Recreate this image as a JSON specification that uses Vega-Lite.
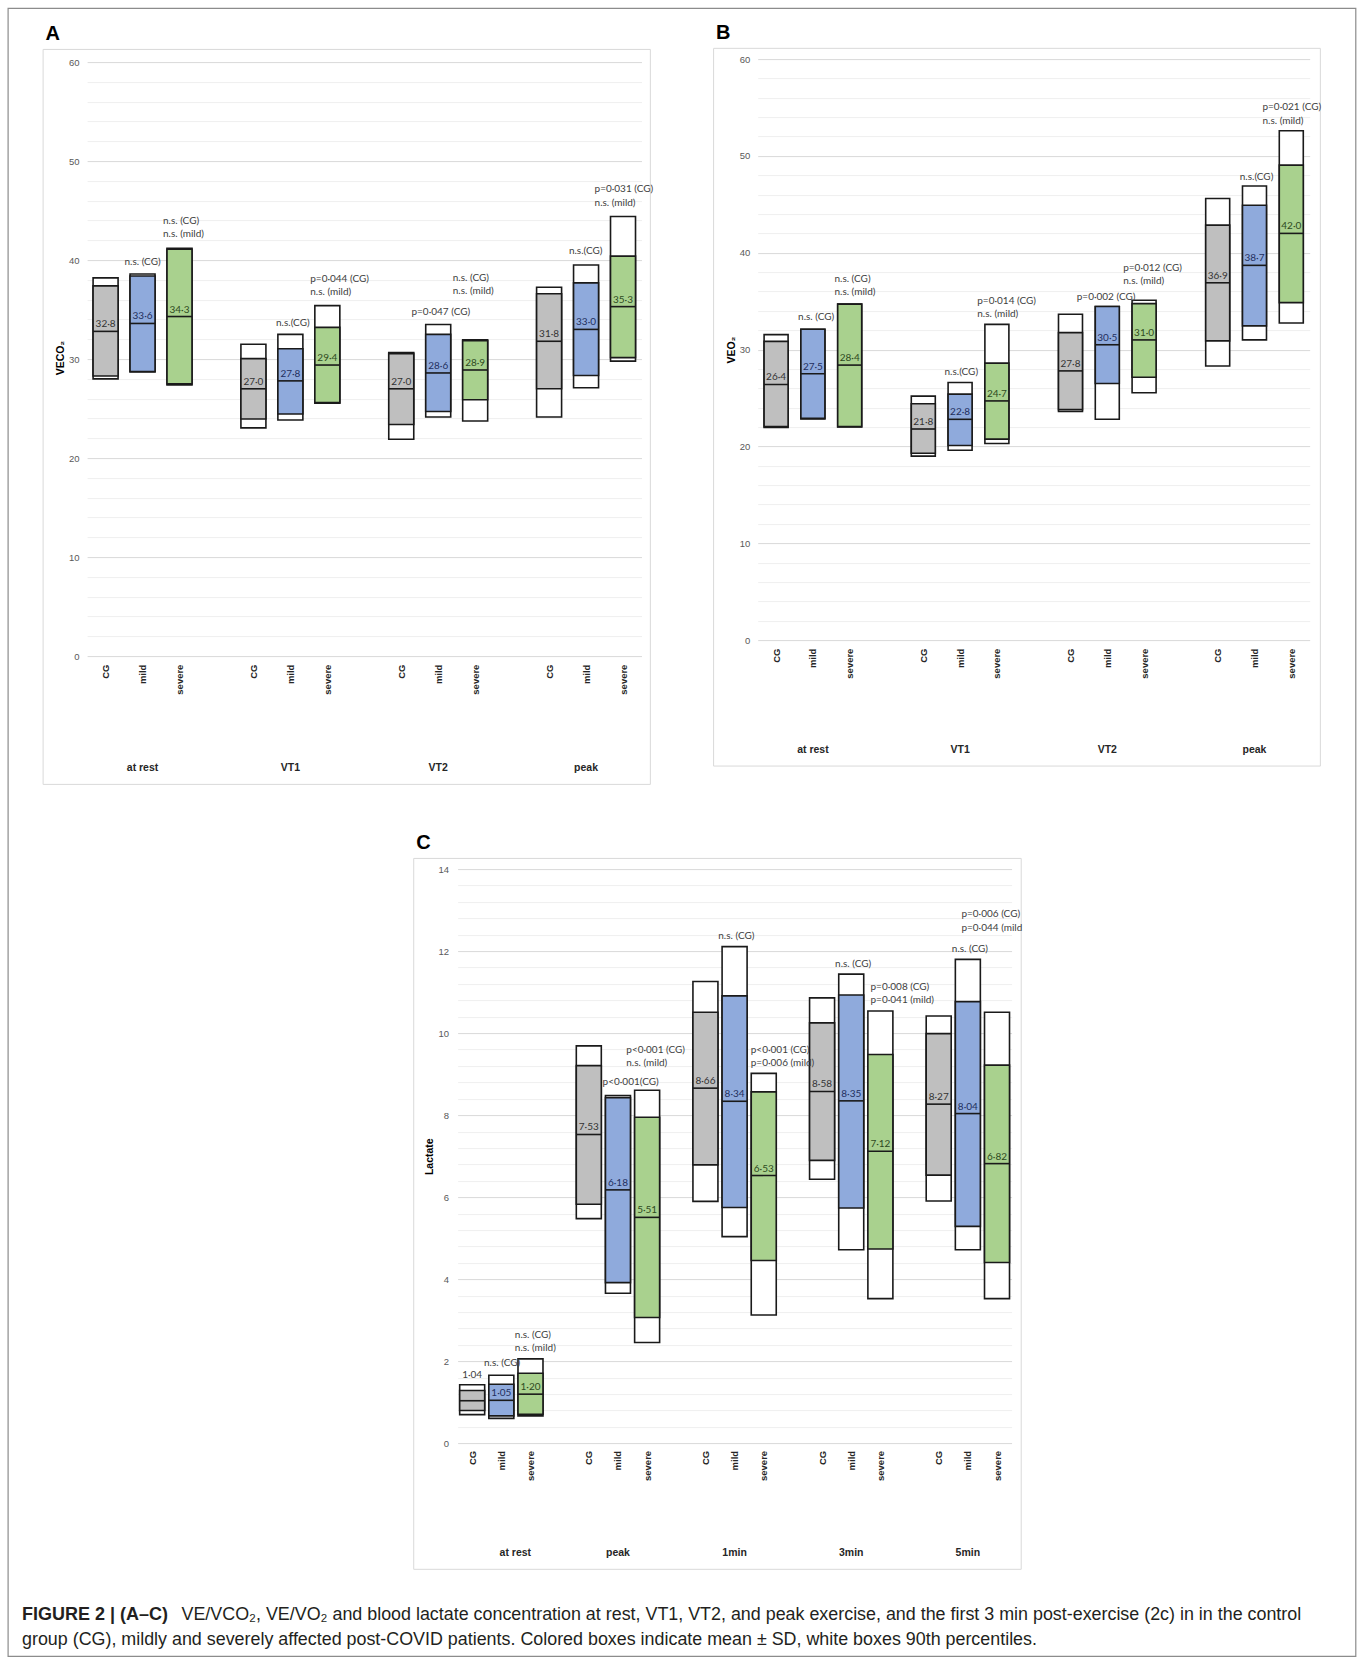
{
  "$schema": "https://vega.github.io/schema/vega-lite/v6.json",
  "background": "#ffffff",
  "padding": 7.1,
  "config": {"view": {"stroke": null}},
  "datasets": {
    "Abars": [
      {"s": 0, "g": "CG", "lo": 28.0, "hi": 38.2, "sl": 28.3, "sh": 37.4, "m": 32.8, "lab": "32·8"},
      {"s": 1, "g": "mild", "lo": 28.7, "hi": 38.6, "sl": 28.75, "sh": 38.4, "m": 33.6, "lab": "33·6"},
      {"s": 2, "g": "severe", "lo": 27.4, "hi": 41.2, "sl": 27.5, "sh": 41.1, "m": 34.3, "lab": "34·3"},
      {"s": 4, "g": "CG", "lo": 23.05, "hi": 31.5, "sl": 23.95, "sh": 30.05, "m": 27.0, "lab": "27·0"},
      {"s": 5, "g": "mild", "lo": 23.85, "hi": 32.5, "sl": 24.45, "sh": 31.05, "m": 27.8, "lab": "27·8"},
      {"s": 6, "g": "severe", "lo": 25.55, "hi": 35.4, "sl": 25.6, "sh": 33.2, "m": 29.4, "lab": "29·4"},
      {"s": 8, "g": "CG", "lo": 21.9, "hi": 30.65, "sl": 23.4, "sh": 30.55, "m": 27.0, "lab": "27·0"},
      {"s": 9, "g": "mild", "lo": 24.15, "hi": 33.5, "sl": 24.7, "sh": 32.5, "m": 28.6, "lab": "28·6"},
      {"s": 10, "g": "severe", "lo": 23.75, "hi": 31.95, "sl": 25.9, "sh": 31.85, "m": 28.9, "lab": "28·9"},
      {"s": 12, "g": "CG", "lo": 24.15, "hi": 37.25, "sl": 27.0, "sh": 36.6, "m": 31.8, "lab": "31·8"},
      {"s": 13, "g": "mild", "lo": 27.1, "hi": 39.5, "sl": 28.35, "sh": 37.7, "m": 33.0, "lab": "33·0"},
      {"s": 14, "g": "severe", "lo": 29.8, "hi": 44.4, "sl": 30.15, "sh": 40.4, "m": 35.3, "lab": "35·3"}
    ],
    "Bbars": [
      {"s": 0, "g": "CG", "lo": 21.95, "hi": 31.55, "sl": 22.05, "sh": 30.85, "m": 26.4, "lab": "26·4"},
      {"s": 1, "g": "mild", "lo": 22.85, "hi": 32.1, "sl": 22.9, "sh": 32.1, "m": 27.5, "lab": "27·5"},
      {"s": 2, "g": "severe", "lo": 22.0, "hi": 34.7, "sl": 22.05, "sh": 34.7, "m": 28.4, "lab": "28·4"},
      {"s": 4, "g": "CG", "lo": 19.0, "hi": 25.2, "sl": 19.3, "sh": 24.4, "m": 21.8, "lab": "21·8"},
      {"s": 5, "g": "mild", "lo": 19.6, "hi": 26.6, "sl": 20.1, "sh": 25.4, "m": 22.8, "lab": "22·8"},
      {"s": 6, "g": "severe", "lo": 20.3, "hi": 32.6, "sl": 20.75, "sh": 28.6, "m": 24.7, "lab": "24·7"},
      {"s": 8, "g": "CG", "lo": 23.6, "hi": 33.65, "sl": 23.8, "sh": 31.75, "m": 27.8, "lab": "27·8"},
      {"s": 9, "g": "mild", "lo": 22.8, "hi": 34.45, "sl": 26.5, "sh": 34.45, "m": 30.5, "lab": "30·5"},
      {"s": 10, "g": "severe", "lo": 25.55, "hi": 35.1, "sl": 27.15, "sh": 34.75, "m": 31.0, "lab": "31·0"},
      {"s": 12, "g": "CG", "lo": 28.3, "hi": 45.6, "sl": 30.9, "sh": 42.85, "m": 36.9, "lab": "36·9"},
      {"s": 13, "g": "mild", "lo": 31.0, "hi": 46.9, "sl": 32.45, "sh": 44.9, "m": 38.7, "lab": "38·7"},
      {"s": 14, "g": "severe", "lo": 32.75, "hi": 52.6, "sl": 34.85, "sh": 49.05, "m": 42.0, "lab": "42·0"}
    ],
    "Cbars": [
      {"s": 0, "g": "CG", "lo": 0.70, "hi": 1.43, "sl": 0.80, "sh": 1.29, "m": 1.04, "lab": ""},
      {"s": 1, "g": "mild", "lo": 0.61, "hi": 1.66, "sl": 0.67, "sh": 1.44, "m": 1.05, "lab": "1·05"},
      {"s": 2, "g": "severe", "lo": 0.67, "hi": 2.06, "sl": 0.71, "sh": 1.71, "m": 1.20, "lab": "1·20"},
      {"s": 4, "g": "CG", "lo": 5.48, "hi": 9.69, "sl": 5.83, "sh": 9.21, "m": 7.53, "lab": "7·53"},
      {"s": 5, "g": "mild", "lo": 3.66, "hi": 8.48, "sl": 3.92, "sh": 8.43, "m": 6.18, "lab": "6·18"},
      {"s": 6, "g": "severe", "lo": 2.46, "hi": 8.61, "sl": 3.07, "sh": 7.95, "m": 5.51, "lab": "5·51"},
      {"s": 8, "g": "CG", "lo": 5.90, "hi": 11.26, "sl": 6.79, "sh": 10.51, "m": 8.66, "lab": "8·66"},
      {"s": 9, "g": "mild", "lo": 5.04, "hi": 12.11, "sl": 5.75, "sh": 10.91, "m": 8.34, "lab": "8·34"},
      {"s": 10, "g": "severe", "lo": 3.13, "hi": 9.02, "sl": 4.46, "sh": 8.57, "m": 6.53, "lab": "6·53"},
      {"s": 12, "g": "CG", "lo": 6.44, "hi": 10.86, "sl": 6.90, "sh": 10.25, "m": 8.58, "lab": "8·58"},
      {"s": 13, "g": "mild", "lo": 4.72, "hi": 11.44, "sl": 5.74, "sh": 10.93, "m": 8.35, "lab": "8·35"},
      {"s": 14, "g": "severe", "lo": 3.53, "hi": 10.54, "sl": 4.74, "sh": 9.48, "m": 7.12, "lab": "7·12"},
      {"s": 16, "g": "CG", "lo": 5.91, "hi": 10.42, "sl": 6.54, "sh": 9.99, "m": 8.27, "lab": "8·27"},
      {"s": 17, "g": "mild", "lo": 4.72, "hi": 11.80, "sl": 5.29, "sh": 10.77, "m": 8.04, "lab": "8·04"},
      {"s": 18, "g": "severe", "lo": 3.53, "hi": 10.51, "sl": 4.41, "sh": 9.22, "m": 6.82, "lab": "6·82"}
    ],
    "Aann": [
      {"s": 1.0, "v": 39.8, "t": "n.s. (CG)", "a": "c"},
      {"s": 1.553, "v": 43.96, "t": "n.s. (CG)", "a": "l"},
      {"s": 1.553, "v": 42.62, "t": "n.s. (mild)", "a": "l"},
      {"s": 5.066, "v": 33.68, "t": "n.s.(CG)", "a": "c"},
      {"s": 5.538, "v": 38.05, "t": "p=0·044 (CG)", "a": "l"},
      {"s": 5.538, "v": 36.76, "t": "n.s. (mild)", "a": "l"},
      {"s": 9.07, "v": 34.77, "t": "p=0·047 (CG)", "a": "c"},
      {"s": 9.394, "v": 38.15, "t": "n.s. (CG)", "a": "l"},
      {"s": 9.394, "v": 36.86, "t": "n.s. (mild)", "a": "l"},
      {"s": 12.99, "v": 40.88, "t": "n.s.(CG)", "a": "c"},
      {"s": 13.23, "v": 47.14, "t": "p=0·031 (CG)", "a": "l"},
      {"s": 13.23, "v": 45.8, "t": "n.s. (mild)", "a": "l"}
    ],
    "Bann": [
      {"s": 1.088, "v": 33.4, "t": "n.s. (CG)", "a": "c"},
      {"s": 1.586, "v": 37.31, "t": "n.s. (CG)", "a": "l"},
      {"s": 1.586, "v": 35.95, "t": "n.s. (mild)", "a": "l"},
      {"s": 5.033, "v": 27.64, "t": "n.s.(CG)", "a": "c"},
      {"s": 5.467, "v": 35.05, "t": "p=0·014 (CG)", "a": "l"},
      {"s": 5.467, "v": 33.65, "t": "n.s. (mild)", "a": "l"},
      {"s": 8.967, "v": 35.45, "t": "p=0·002 (CG)", "a": "c"},
      {"s": 9.433, "v": 38.41, "t": "p=0·012 (CG)", "a": "l"},
      {"s": 9.433, "v": 37.06, "t": "n.s. (mild)", "a": "l"},
      {"s": 13.056, "v": 47.87, "t": "n.s.(CG)", "a": "c"},
      {"s": 13.217, "v": 55.03, "t": "p=0·021 (CG)", "a": "l"},
      {"s": 13.217, "v": 53.63, "t": "n.s. (mild)", "a": "l"}
    ],
    "Cann": [
      {"s": 0, "v": 1.67, "t": "1·04", "a": "c"},
      {"s": 0.407, "v": 1.96, "t": "n.s. (CG)", "a": "l"},
      {"s": 1.464, "v": 2.653, "t": "n.s. (CG)", "a": "l"},
      {"s": 1.464, "v": 2.335, "t": "n.s. (mild)", "a": "l"},
      {"s": 4.473, "v": 8.81, "t": "p<0·001(CG)", "a": "l"},
      {"s": 5.286, "v": 9.6, "t": "p<0·001 (CG)", "a": "l"},
      {"s": 5.286, "v": 9.28, "t": "n.s. (mild)", "a": "l"},
      {"s": 9.06, "v": 12.37, "t": "n.s. (CG)", "a": "c"},
      {"s": 9.555, "v": 9.6, "t": "p<0·001 (CG)", "a": "l"},
      {"s": 9.555, "v": 9.28, "t": "p=0·006 (mild)", "a": "l"},
      {"s": 13.066, "v": 11.69, "t": "n.s. (CG)", "a": "c"},
      {"s": 13.662, "v": 11.13, "t": "p=0·008 (CG)", "a": "l"},
      {"s": 13.662, "v": 10.81, "t": "p=0·041 (mild)", "a": "l"},
      {"s": 17.07, "v": 12.05, "t": "n.s. (CG)", "a": "c"},
      {"s": 16.78, "v": 12.9, "t": "p=0·006 (CG)", "a": "l"},
      {"s": 16.78, "v": 12.57, "t": "p=0·044 (mild", "a": "l"}
    ],
    "Agrp": [
      {"s": 1, "t": "at rest"}, {"s": 5, "t": "VT1"}, {"s": 9, "t": "VT2"}, {"s": 13, "t": "peak"}
    ],
    "Cgrp": [
      {"s": 1.48, "t": "at rest"}, {"s": 5, "t": "peak"}, {"s": 9, "t": "1min"}, {"s": 13, "t": "3min"}, {"s": 17, "t": "5min"}
    ]
  },
  "concat": [
    {
      "width": 554.4,
      "height": 597,
      "title": {"text": "A", "anchor": "start", "frame": "bounds", "font": "Liberation Sans", "fontSize": 20, "fontWeight": "bold", "color": "#000000", "offset": 5, "dx": 3},
      "layer": [
        {
          "data": {"values": [{}]},
          "mark": {"type": "rect", "filled": false, "color": "#d9d9d9", "strokeWidth": 1},
          "encoding": {
            "x": {"datum": -1.69, "type": "quantitative"},
            "x2": {"datum": 14.74},
            "y": {"datum": 61.28, "type": "quantitative"},
            "y2": {"datum": -12.96}
          }
        },
        {
          "data": {"name": "Abars"},
          "mark": {"type": "bar", "width": 25, "fill": "#ffffff", "stroke": "#1a1a1a", "strokeWidth": 1.6},
          "encoding": {
            "x": {"field": "s", "type": "quantitative", "title": null,
              "scale": {"domain": [-0.5, 14.5], "padding": 0, "nice": false, "zero": false},
              "axis": {"values": [0,1,2,4,5,6,8,9,10,12,13,14], "tickCount": 100, "labelExpr": "datum.value % 4 == 0 ? 'CG' : (datum.value % 4 == 1 ? 'mild' : 'severe')", "labelAngle": 270, "labelFont": "Liberation Sans", "labelFontWeight": "bold", "labelFontSize": 9.5, "labelColor": "#262626", "labelPadding": 8, "domain": false, "ticks": false, "grid": false, "labelOverlap": false, "labelBound": false, "labelFlush": false}},
            "y": {"field": "lo", "type": "quantitative", "title": "VECO₂",
              "scale": {"domain": [0, 60.303], "nice": false, "zero": false},
              "axis": {"values": [0,2,4,6,8,10,12,14,16,18,20,22,24,26,28,30,32,34,36,38,40,42,44,46,48,50,52,54,56,58,60], "tickCount": 100, "format": "d", "labelExpr": "datum.value % 10 == 0 ? datum.label : ''", "grid": true, "gridColor": {"condition": {"test": "datum.value % 10 == 0", "value": "#d9d9d9"}, "value": "#efefef"}, "gridWidth": 1, "domain": false, "ticks": false, "labelPadding": 8, "labelFont": "Liberation Sans", "labelFontSize": 9.5, "labelColor": "#595959", "labelOverlap": false, "titleFont": "Liberation Sans", "titleFontSize": 10.5, "titleFontWeight": "bold", "titleColor": "#000000", "titlePadding": 3}},
            "y2": {"field": "hi"}
          }
        },
        {
          "data": {"name": "Abars"},
          "mark": {"type": "bar", "width": 25, "stroke": "#1a1a1a", "strokeWidth": 1.6},
          "encoding": {
            "x": {"field": "s", "type": "quantitative", "title": null},
            "y": {"field": "sl", "type": "quantitative", "title": "VECO₂"},
            "y2": {"field": "sh"},
            "fill": {"field": "g", "type": "nominal", "scale": {"domain": ["CG", "mild", "severe"], "range": ["#bfbfbf", "#8faadc", "#a9d18e"]}, "legend": null}
          }
        },
        {
          "data": {"name": "Abars"},
          "mark": {"type": "tick", "orient": "horizontal", "size": 25, "thickness": 1.6, "color": "#1a1a1a", "opacity": 1},
          "encoding": {
            "x": {"field": "s", "type": "quantitative", "title": null},
            "y": {"field": "m", "type": "quantitative", "title": "VECO₂"}
          }
        },
        {
          "data": {"name": "Abars"},
          "mark": {"type": "text", "font": "Lato", "fontSize": 10, "align": "center", "baseline": "alphabetic", "dy": -4},
          "encoding": {
            "x": {"field": "s", "type": "quantitative", "title": null},
            "y": {"field": "m", "type": "quantitative", "title": "VECO₂"},
            "text": {"field": "lab"},
            "color": {"field": "g", "type": "nominal", "scale": {"domain": ["CG", "mild", "severe"], "range": ["#333333", "#1f2f5e", "#2e4a1e"]}, "legend": null}
          }
        },
        {
          "data": {"name": "Aann"},
          "transform": [{"filter": "datum.a == 'c'"}],
          "mark": {"type": "text", "font": "Lato", "fontSize": 10, "color": "#404040", "align": "center", "baseline": "middle"},
          "encoding": {
            "x": {"field": "s", "type": "quantitative", "title": null},
            "y": {"field": "v", "type": "quantitative", "title": "VECO₂"},
            "text": {"field": "t"}
          }
        },
        {
          "data": {"name": "Aann"},
          "transform": [{"filter": "datum.a == 'l'"}],
          "mark": {"type": "text", "font": "Lato", "fontSize": 10, "color": "#404040", "align": "left", "baseline": "middle"},
          "encoding": {
            "x": {"field": "s", "type": "quantitative", "title": null},
            "y": {"field": "v", "type": "quantitative", "title": "VECO₂"},
            "text": {"field": "t"}
          }
        },
        {
          "data": {"name": "Agrp"},
          "mark": {"type": "text", "font": "Liberation Sans", "fontSize": 10.5, "fontWeight": "bold", "color": "#262626", "align": "center", "baseline": "middle"},
          "encoding": {
            "x": {"field": "s", "type": "quantitative", "title": null},
            "y": {"datum": -11.3, "type": "quantitative"},
            "text": {"field": "t"}
          }
        }
      ]
    },
    {
      "width": 552,
      "height": 581,
      "title": {"text": "B", "anchor": "start", "frame": "bounds", "font": "Liberation Sans", "fontSize": 20, "fontWeight": "bold", "color": "#000000", "offset": 5, "dx": 3},
      "layer": [
        {
          "data": {"values": [{}]},
          "mark": {"type": "rect", "filled": false, "color": "#d9d9d9", "strokeWidth": 1},
          "encoding": {
            "x": {"datum": -1.698, "type": "quantitative"},
            "x2": {"datum": 14.79},
            "y": {"datum": 61.11, "type": "quantitative"},
            "y2": {"datum": -13.01}
          }
        },
        {
          "data": {"name": "Bbars"},
          "mark": {"type": "bar", "width": 24, "fill": "#ffffff", "stroke": "#1a1a1a", "strokeWidth": 1.6},
          "encoding": {
            "x": {"field": "s", "type": "quantitative", "title": null,
              "scale": {"domain": [-0.5, 14.5], "padding": 0, "nice": false, "zero": false},
              "axis": {"values": [0,1,2,4,5,6,8,9,10,12,13,14], "tickCount": 100, "labelExpr": "datum.value % 4 == 0 ? 'CG' : (datum.value % 4 == 1 ? 'mild' : 'severe')", "labelAngle": 270, "labelFont": "Liberation Sans", "labelFontWeight": "bold", "labelFontSize": 9.5, "labelColor": "#262626", "labelPadding": 8, "domain": false, "ticks": false, "grid": false, "labelOverlap": false, "labelBound": false, "labelFlush": false}},
            "y": {"field": "lo", "type": "quantitative", "title": "VEO₂",
              "scale": {"domain": [0, 60], "nice": false, "zero": false},
              "axis": {"values": [0,2,4,6,8,10,12,14,16,18,20,22,24,26,28,30,32,34,36,38,40,42,44,46,48,50,52,54,56,58,60], "tickCount": 100, "format": "d", "labelExpr": "datum.value % 10 == 0 ? datum.label : ''", "grid": true, "gridColor": {"condition": {"test": "datum.value % 10 == 0", "value": "#d9d9d9"}, "value": "#efefef"}, "gridWidth": 1, "domain": false, "ticks": false, "labelPadding": 8, "labelFont": "Liberation Sans", "labelFontSize": 9.5, "labelColor": "#595959", "labelOverlap": false, "titleFont": "Liberation Sans", "titleFontSize": 10.5, "titleFontWeight": "bold", "titleColor": "#000000", "titlePadding": 3}},
            "y2": {"field": "hi"}
          }
        },
        {
          "data": {"name": "Bbars"},
          "mark": {"type": "bar", "width": 24, "stroke": "#1a1a1a", "strokeWidth": 1.6},
          "encoding": {
            "x": {"field": "s", "type": "quantitative", "title": null},
            "y": {"field": "sl", "type": "quantitative", "title": "VEO₂"},
            "y2": {"field": "sh"},
            "fill": {"field": "g", "type": "nominal", "scale": {"domain": ["CG", "mild", "severe"], "range": ["#bfbfbf", "#8faadc", "#a9d18e"]}, "legend": null}
          }
        },
        {
          "data": {"name": "Bbars"},
          "mark": {"type": "tick", "orient": "horizontal", "size": 24, "thickness": 1.6, "color": "#1a1a1a", "opacity": 1},
          "encoding": {
            "x": {"field": "s", "type": "quantitative", "title": null},
            "y": {"field": "m", "type": "quantitative", "title": "VEO₂"}
          }
        },
        {
          "data": {"name": "Bbars"},
          "mark": {"type": "text", "font": "Lato", "fontSize": 10, "align": "center", "baseline": "alphabetic", "dy": -4},
          "encoding": {
            "x": {"field": "s", "type": "quantitative", "title": null},
            "y": {"field": "m", "type": "quantitative", "title": "VEO₂"},
            "text": {"field": "lab"},
            "color": {"field": "g", "type": "nominal", "scale": {"domain": ["CG", "mild", "severe"], "range": ["#333333", "#1f2f5e", "#2e4a1e"]}, "legend": null}
          }
        },
        {
          "data": {"name": "Bann"},
          "transform": [{"filter": "datum.a == 'c'"}],
          "mark": {"type": "text", "font": "Lato", "fontSize": 10, "color": "#404040", "align": "center", "baseline": "middle"},
          "encoding": {
            "x": {"field": "s", "type": "quantitative", "title": null},
            "y": {"field": "v", "type": "quantitative", "title": "VEO₂"},
            "text": {"field": "t"}
          }
        },
        {
          "data": {"name": "Bann"},
          "transform": [{"filter": "datum.a == 'l'"}],
          "mark": {"type": "text", "font": "Lato", "fontSize": 10, "color": "#404040", "align": "left", "baseline": "middle"},
          "encoding": {
            "x": {"field": "s", "type": "quantitative", "title": null},
            "y": {"field": "v", "type": "quantitative", "title": "VEO₂"},
            "text": {"field": "t"}
          }
        },
        {
          "data": {"name": "Agrp"},
          "mark": {"type": "text", "font": "Liberation Sans", "fontSize": 10.5, "fontWeight": "bold", "color": "#262626", "align": "center", "baseline": "middle"},
          "encoding": {
            "x": {"field": "s", "type": "quantitative", "title": null},
            "y": {"datum": -11.4, "type": "quantitative"},
            "text": {"field": "t"}
          }
        }
      ]
    },
    {
      "width": 1,
      "height": 1,
      "data": {"values": []},
      "mark": "text",
      "encoding": {}
    },
    {
      "width": 253.9,
      "height": 574.3,
      "title": {"text": "C", "anchor": "start", "frame": "bounds", "font": "Liberation Sans", "fontSize": 20, "fontWeight": "bold", "color": "#000000", "offset": 5, "dx": 3},
      "layer": [
        {
          "data": {"values": [{}]},
          "mark": {"type": "rect", "filled": false, "color": "#d9d9d9", "strokeWidth": 1},
          "encoding": {
            "x": {"datum": -2.005, "type": "quantitative"},
            "x2": {"datum": 18.83},
            "y": {"datum": 14.26, "type": "quantitative"},
            "y2": {"datum": -3.07}
          }
        },
        {
          "data": {"name": "Cbars"},
          "mark": {"type": "bar", "width": 25, "fill": "#ffffff", "stroke": "#1a1a1a", "strokeWidth": 1.6},
          "encoding": {
            "x": {"field": "s", "type": "quantitative", "title": null,
              "scale": {"domain": [-0.5, 18.5], "range": [-300.1, 253.9], "padding": 0, "nice": false, "zero": false},
              "axis": {"values": [0,1,2,4,5,6,8,9,10,12,13,14,16,17,18], "tickCount": 100, "labelExpr": "datum.value % 4 == 0 ? 'CG' : (datum.value % 4 == 1 ? 'mild' : 'severe')", "labelAngle": 270, "labelFont": "Liberation Sans", "labelFontWeight": "bold", "labelFontSize": 9.5, "labelColor": "#262626", "labelPadding": 7, "domain": false, "ticks": false, "grid": false, "labelOverlap": false, "labelBound": false, "labelFlush": false}},
            "y": {"field": "lo", "type": "quantitative", "title": "Lactate",
              "scale": {"domain": [0, 14], "nice": false, "zero": false},
              "axis": {"values": [0,0.4,0.8,1.2,1.6,2,2.4,2.8,3.2,3.6,4,4.4,4.8,5.2,5.6,6,6.4,6.8,7.2,7.6,8,8.4,8.8,9.2,9.6,10,10.4,10.8,11.2,11.6,12,12.4,12.8,13.2,13.6,14], "tickCount": 100, "offset": 300.1, "labelExpr": "datum.value % 2 == 0 ? format(datum.value, 'd') : ''", "grid": true, "gridColor": {"condition": {"test": "datum.value % 2 == 0", "value": "#d9d9d9"}, "value": "#efefef"}, "gridWidth": 1, "domain": false, "ticks": false, "labelPadding": 9, "labelFont": "Liberation Sans", "labelFontSize": 9.5, "labelColor": "#595959", "labelOverlap": false, "titleFont": "Liberation Sans", "titleFontSize": 10.5, "titleFontWeight": "bold", "titleColor": "#000000", "titlePadding": 4}},
            "y2": {"field": "hi"}
          }
        },
        {
          "data": {"name": "Cbars"},
          "mark": {"type": "bar", "width": 25, "stroke": "#1a1a1a", "strokeWidth": 1.6},
          "encoding": {
            "x": {"field": "s", "type": "quantitative", "title": null},
            "y": {"field": "sl", "type": "quantitative", "title": "Lactate"},
            "y2": {"field": "sh"},
            "fill": {"field": "g", "type": "nominal", "scale": {"domain": ["CG", "mild", "severe"], "range": ["#bfbfbf", "#8faadc", "#a9d18e"]}, "legend": null}
          }
        },
        {
          "data": {"name": "Cbars"},
          "mark": {"type": "tick", "orient": "horizontal", "size": 25, "thickness": 1.6, "color": "#1a1a1a", "opacity": 1},
          "encoding": {
            "x": {"field": "s", "type": "quantitative", "title": null},
            "y": {"field": "m", "type": "quantitative", "title": "Lactate"}
          }
        },
        {
          "data": {"name": "Cbars"},
          "mark": {"type": "text", "font": "Lato", "fontSize": 10, "align": "center", "baseline": "alphabetic", "dy": -4},
          "encoding": {
            "x": {"field": "s", "type": "quantitative", "title": null},
            "y": {"field": "m", "type": "quantitative", "title": "Lactate"},
            "text": {"field": "lab"},
            "color": {"field": "g", "type": "nominal", "scale": {"domain": ["CG", "mild", "severe"], "range": ["#333333", "#1f2f5e", "#2e4a1e"]}, "legend": null}
          }
        },
        {
          "data": {"name": "Cann"},
          "transform": [{"filter": "datum.a == 'c'"}],
          "mark": {"type": "text", "font": "Lato", "fontSize": 10, "color": "#404040", "align": "center", "baseline": "middle"},
          "encoding": {
            "x": {"field": "s", "type": "quantitative", "title": null},
            "y": {"field": "v", "type": "quantitative", "title": "Lactate"},
            "text": {"field": "t"}
          }
        },
        {
          "data": {"name": "Cann"},
          "transform": [{"filter": "datum.a == 'l'"}],
          "mark": {"type": "text", "font": "Lato", "fontSize": 10, "color": "#404040", "align": "left", "baseline": "middle"},
          "encoding": {
            "x": {"field": "s", "type": "quantitative", "title": null},
            "y": {"field": "v", "type": "quantitative", "title": "Lactate"},
            "text": {"field": "t"}
          }
        },
        {
          "data": {"name": "Cgrp"},
          "mark": {"type": "text", "font": "Liberation Sans", "fontSize": 10.5, "fontWeight": "bold", "color": "#262626", "align": "center", "baseline": "middle"},
          "encoding": {
            "x": {"field": "s", "type": "quantitative", "title": null},
            "y": {"datum": -2.66, "type": "quantitative"},
            "text": {"field": "t"}
          }
        }
      ]
    },
    {
      "width": 554.4,
      "height": 1,
      "data": {"values": [{}]},
      "encoding": {
        "x": {"type": "quantitative", "scale": {"domain": [74, 628.4], "nice": false, "zero": false}, "axis": null},
        "y": {"type": "quantitative", "scale": {"domain": [1648.3, 1649.3], "nice": false, "zero": false, "reverse": true}, "axis": null}
      },
      "layer": [
        {
          "mark": {"type": "rect", "filled": false, "color": "#8c8c8c", "strokeWidth": 1.2},
          "encoding": {
            "x": {"datum": -5.0, "type": "quantitative"},
            "x2": {"datum": 1342.7},
            "y": {"datum": -0.5, "type": "quantitative"},
            "y2": {"datum": 1647.5}
          }
        },
        {
          "mark": {"type": "text", "font": "Liberation Sans", "fontSize": 18, "fontWeight": "bold", "color": "#231f20", "align": "left", "baseline": "middle"},
          "encoding": {
            "x": {"datum": 8.9, "type": "quantitative"},
            "y": {"datum": 1606, "type": "quantitative"},
            "text": {"value": "FIGURE 2 | (A–C)"}
          }
        },
        {
          "mark": {"type": "text", "font": "Liberation Sans", "fontSize": 17.9, "color": "#231f20", "align": "left", "baseline": "middle"},
          "encoding": {
            "x": {"datum": 168.4, "type": "quantitative"},
            "y": {"datum": 1606, "type": "quantitative"},
            "text": {"value": "VE/VCO₂, VE/VO₂ and blood lactate concentration at rest, VT1, VT2, and peak exercise, and the first 3 min post-exercise (2c) in in the control"}
          }
        },
        {
          "mark": {"type": "text", "font": "Liberation Sans", "fontSize": 17.9, "color": "#231f20", "align": "left", "baseline": "middle"},
          "encoding": {
            "x": {"datum": 8.9, "type": "quantitative"},
            "y": {"datum": 1631, "type": "quantitative"},
            "text": {"value": "group (CG), mildly and severely affected post-COVID patients. Colored boxes indicate mean ± SD, white boxes 90th percentiles."}
          }
        }
      ]
    },
    {
      "width": 1,
      "height": 1,
      "data": {"values": []},
      "mark": "text",
      "encoding": {}
    }
  ],
  "columns": 2,
  "spacing": {"row": 213, "column": 115.6},
  "bounds": "flush",
  "align": "each"
}
